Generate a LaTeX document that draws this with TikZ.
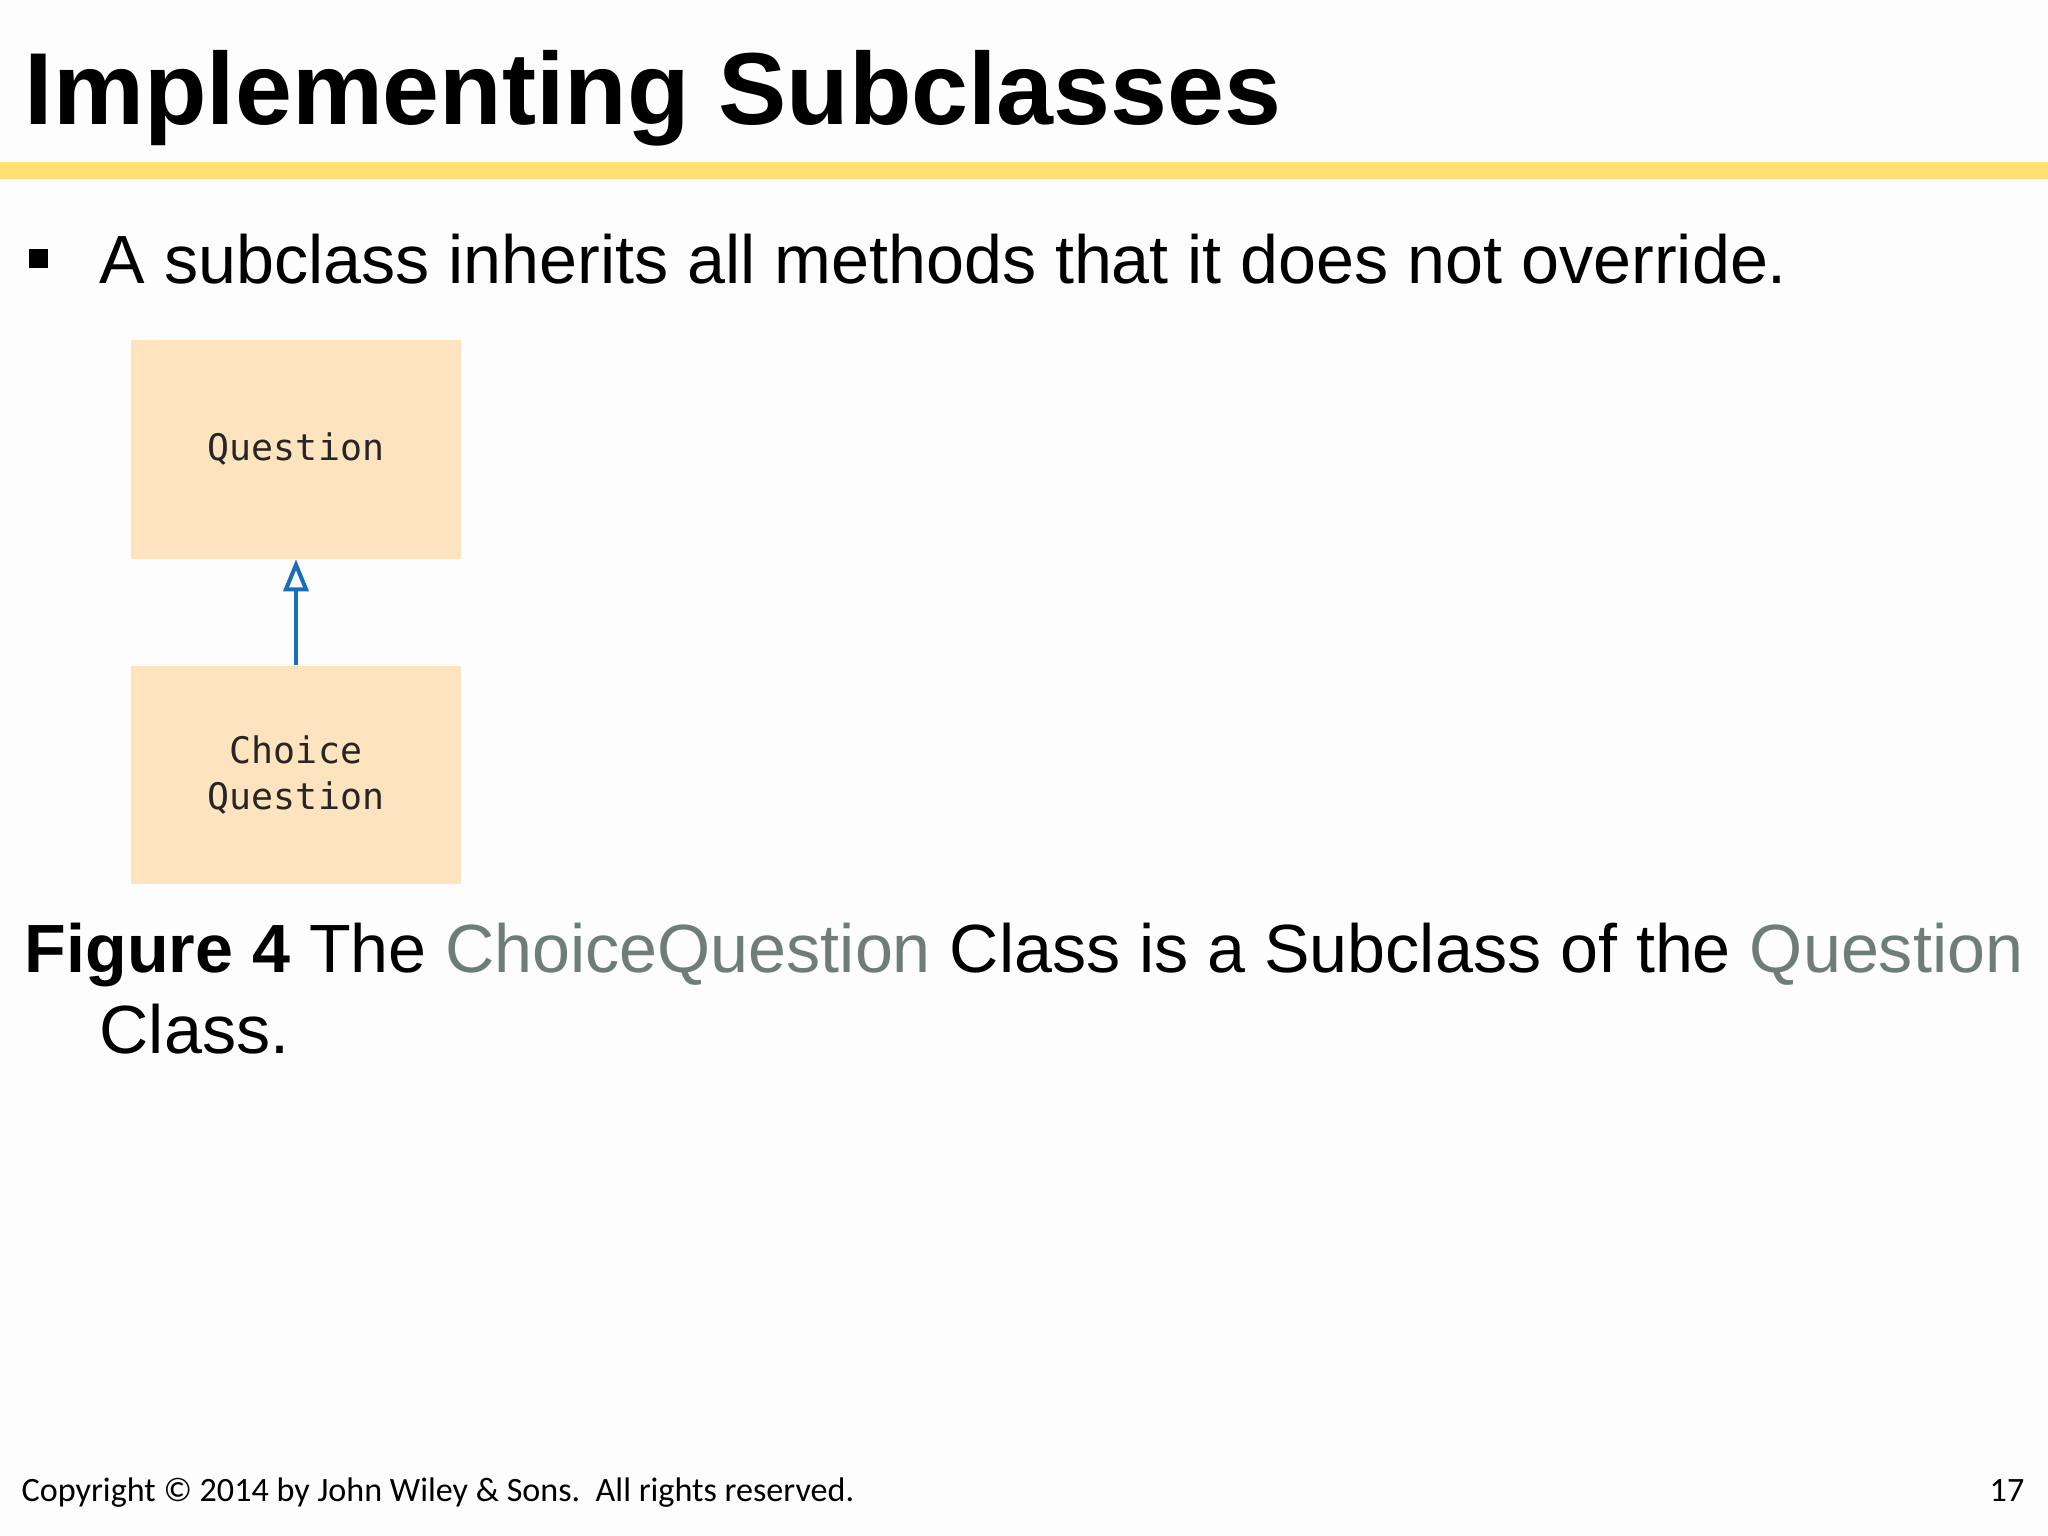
\documentclass[tikz,border=0pt]{standalone}
\usepackage{fontspec}
\setmainfont{Liberation Sans}
\newfontfamily\codefont{DejaVu Sans Mono}
\newfontfamily\footfont{Carlito}
\usetikzlibrary{positioning,arrows.meta}
\definecolor{barYellow}{RGB}{255,224,115}
\definecolor{boxPeach}{RGB}{253,228,190}
\definecolor{arrowBlue}{RGB}{26,110,185}
\definecolor{capGray}{RGB}{110,125,121}
\definecolor{pageWhite}{RGB}{253,253,253}

\begin{document}
\begin{tikzpicture}[x=0.01cm,y=-0.01cm,node distance=3.25cm,on grid,
    classbox/.style={fill=boxPeach,minimum width=3.3cm,minimum height=2.18cm,
      align=center,inner sep=0pt,text=black!85,
      font=\codefont\fontsize{10.4}{13}\selectfont},
    txt/.style={anchor=base west,inner sep=0pt}]
   \fill[pageWhite] (0,0) rectangle (2048,1536);
   \node[txt,font=\bfseries\fontsize{29.1}{32}\selectfont] (title) at (24,124) {Implementing Subclasses};
   \fill[barYellow] (0,162) rectangle (2048,179);
   \fill (29,249) rectangle (48,268);
   \node[txt,font=\fontsize{19.4}{23}\selectfont] (point) at (99,283) {A subclass inherits all methods that it does not override.};
   \node[classbox] (Q) at (296,449.5) {Question};
   \node[classbox] (CQ) [below=of Q] {Choice\\Question};
   \path[-{Triangle[open,length=0.32cm,width=0.25cm]},draw=arrowBlue,line width=1.15pt]
    (CQ) edge (Q);
   \node[txt,font=\fontsize{19.4}{23}\selectfont] (cap) at (24,972) {\textbf{Figure 4} The \textcolor{capGray}{ChoiceQuestion} Class is a Subclass of the \textcolor{capGray}{Question}};
   \node[txt,font=\fontsize{19.4}{23}\selectfont] (cap2) at (99,1053) {Class.};
   \node[txt,font=\footfont\fontsize{9.7}{12}\selectfont] (copy) at (21,1501) {Copyright © 2014 by John Wiley \& Sons.\ \ All rights reserved.};
   \node[anchor=base east,inner sep=0pt,font=\footfont\fontsize{9.7}{12}\selectfont] (page) at (2025,1501) {17};
\end{tikzpicture}
\end{document}
